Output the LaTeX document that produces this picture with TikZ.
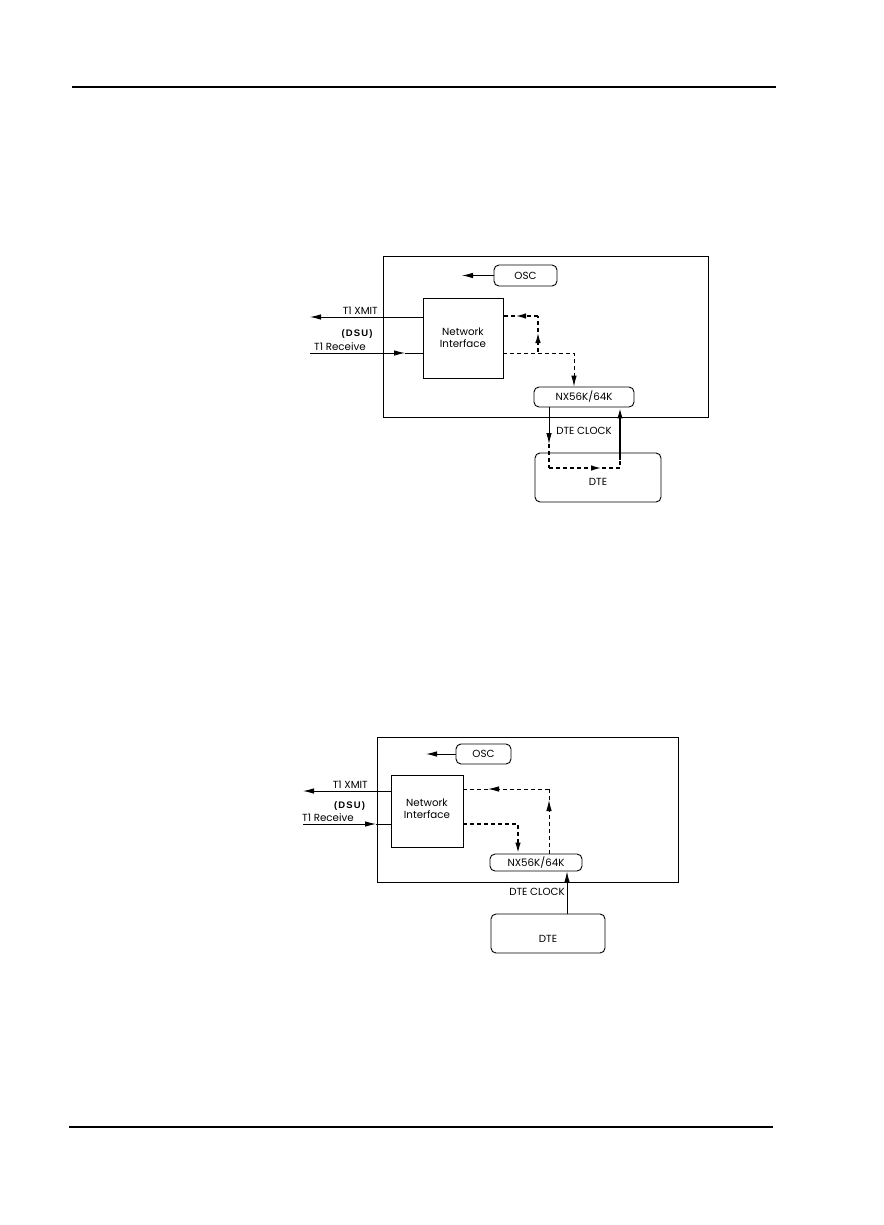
\documentclass[tikz,border=0pt]{standalone}
\usepackage{fontspec}
\setmainfont{Poppins}
\newfontfamily\dsufont{Liberation Sans}[LetterSpace=12]
\usetikzlibrary{arrows.meta}
\tikzset{
  arr/.style={-{Latex[length=11pt,width=5.5pt]}},
  thinl/.style={line width=0.9pt},
  boldl/.style={line width=1.8pt},
  thindash/.style={line width=0.9pt,dash pattern=on 4pt off 3pt},
  bolddash/.style={line width=1.8pt,dash pattern=on 4pt off 3pt},
  sqbox/.style={draw,line width=0.9pt,inner sep=0pt},
  rbox/.style={draw,line width=0.9pt,rounded corners=5pt,inner sep=0pt},
  lbl/.style={font=\fontsize{10.3}{12}\selectfont,inner sep=0pt},
  bl/.style={font=\dsufont\bfseries\fontsize{9.5}{12}\selectfont,inner sep=0pt},
}
\begin{document}
\begin{tikzpicture}[x=1pt,y=-1pt]
\useasboundingbox (0,0) rectangle (883,1225);
% rules
\draw[line width=2pt] (72,87) -- (776,87);
\draw[line width=2pt] (69,1127) -- (773,1127);

% ===== top diagram =====
\node[sqbox,minimum width=325pt,minimum height=161pt] (outer1) at (545.5,336.5) {};
\node[rbox,minimum width=63pt,minimum height=21pt] (osc1) at (525.5,275.5) {};
\node[lbl] at (osc1) {OSC};
\coordinate (oscend1) at (462,275.5);
\draw[thinl,arr] (osc1.west) -- (oscend1);
\node[sqbox,minimum width=80pt,minimum height=80pt,align=center] (ni1) at (463,338) {};
\node[lbl,align=center] at (463,337.5) {Network\\Interface};
% T1 XMIT
\coordinate (xmitend1) at (310,317);
\draw[thinl,arr] (ni1.west|-xmitend1) -- (xmitend1);
\node[lbl,anchor=south east] (xmitlbl1) at (378,315) {T1 XMIT};
\node[bl] (dsu1) at (357,334) {(DSU)};
\node[lbl,anchor=south west] (rcvlbl1) at (314,351) {T1 Receive};
\coordinate (rcvstart1) at (310,353);
\coordinate (rcvtip1) at (405,353);
\draw[thinl,arr] (rcvstart1) -- (rcvtip1);
\draw[thinl] (rcvtip1) -- (ni1.west|-rcvtip1);
% NX
\node[rbox,minimum width=100pt,minimum height=20pt] (nx1) at (584,397) {};
\node[lbl] at (nx1) {NX56K/64K};
% thin dashed NI -> NX
\coordinate (c1a) at (574,353);
\draw[thindash,arr] (ni1.east|-c1a) -- (c1a) -- (c1a|-nx1.north);
% bold dashed loop back
\coordinate (b1s) at (538,352);
\coordinate (b1t) at (538,332);
\coordinate (b1c) at (538,316);
\coordinate (b1l) at (515,316);
\draw[bolddash,arr] (b1s) -- (b1t);
\draw[bolddash] (b1t) -- (b1c);
\draw[bolddash,arr] (b1c) -- (b1l);
\draw[bolddash] (b1l) -- (ni1.east|-b1l);
% DTE
\node[rbox,minimum width=126pt,minimum height=49pt] (dte1) at (598,477.5) {};
\node[lbl] at (598,482) {DTE};
\node[lbl] (clk1) at (584,431) {DTE CLOCK};
\coordinate (d1a) at (549,444);
\coordinate (d1b) at (549,468);
\coordinate (d1t) at (602,468);
\coordinate (d1c) at (620,468);
\coordinate (d1d) at (620,460);
\draw[thinl,arr] (nx1.south-|d1a) -- (d1a);
\draw[bolddash] (d1a) -- (d1b);
\draw[bolddash,arr] (d1b) -- (d1t);
\draw[bolddash] (d1t) -- (d1c) -- (d1d);
\draw[boldl,arr] (d1d) -- (d1d|-nx1.south);

% ===== bottom diagram =====
\node[sqbox,minimum width=301pt,minimum height=145pt] (outer2) at (527.5,809.5) {};
\node[rbox,minimum width=55pt,minimum height=20pt] (osc2) at (483.5,754) {};
\node[lbl] at (osc2) {OSC};
\coordinate (oscend2) at (426,754);
\draw[thinl,arr] (osc2.west) -- (oscend2);
\node[sqbox,minimum width=72pt,minimum height=72pt] (ni2) at (427,811) {};
\node[lbl,align=center] at (427,809) {Network\\Interface};
\coordinate (xmitend2) at (303,791);
\draw[thinl,arr] (ni2.west|-xmitend2) -- (xmitend2);
\node[lbl,anchor=south east] (xmitlbl2) at (368,789) {T1 XMIT};
\node[bl] (dsu2) at (349.5,806) {(DSU)};
\node[lbl,anchor=south west] (rcvlbl2) at (302,822) {T1 Receive};
\coordinate (rcvstart2) at (303,824);
\coordinate (rcvtip2) at (376,824);
\draw[thinl,arr] (rcvstart2) -- (rcvtip2);
\draw[thinl] (rcvtip2) -- (ni2.west|-rcvtip2);
\node[rbox,minimum width=92pt,minimum height=17pt] (nx2) at (536,862.5) {};
\node[lbl] at (nx2) {NX56K/64K};
% thin dashed NX -> NI (back)
\coordinate (t2t) at (549,800);
\coordinate (t2c) at (549,789);
\coordinate (t2l) at (488,789);
\draw[thindash,arr] (nx2.north-|t2t) -- (t2t);
\draw[thindash] (t2t) -- (t2c);
\draw[thindash,arr] (t2c) -- (t2l);
\draw[thindash] (t2l) -- (ni2.east|-t2l);
% bold dashed NI -> NX
\coordinate (b2c) at (518,824);
\draw[bolddash,arr] (ni2.east|-b2c) -- (b2c) -- (b2c|-nx2.north);
% DTE
\node[rbox,minimum width=114pt,minimum height=39pt] (dte2) at (548,933.5) {};
\node[lbl] at (548,939) {DTE};
\node[lbl] (clk2) at (537,892) {DTE CLOCK};
\coordinate (e2) at (567,900);
\draw[thinl,arr] (dte2.north-|e2) -- (e2|-nx2.south);
\end{tikzpicture}
\end{document}
